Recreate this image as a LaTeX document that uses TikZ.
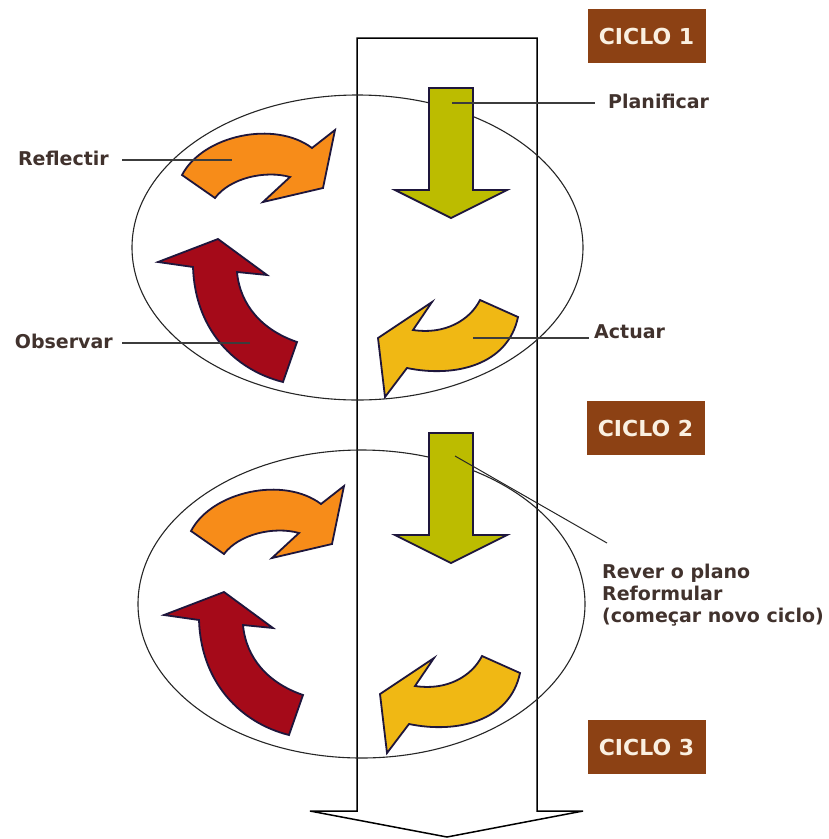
\documentclass[tikz,border=0pt]{standalone}
\usepackage{fontspec}
\setmainfont{DejaVu Sans}
\definecolor{cOrange}{RGB}{247,140,25}
\definecolor{cRed}{RGB}{165,10,25}
\definecolor{cYellow}{RGB}{240,184,20}
\definecolor{cGreen}{RGB}{188,188,0}
\definecolor{cEdge}{RGB}{30,22,60}
\definecolor{cBox}{RGB}{140,65,20}
\definecolor{cBoxText}{RGB}{250,240,225}
\definecolor{cLabel}{RGB}{65,50,45}
\definecolor{cLine}{RGB}{60,60,60}
\tikzset{
  shapeedge/.style={draw=cEdge, line width=1.8pt, line join=miter},
  bigarrow/.style={draw=black, line width=1.5pt, fill=white},
  cycleellipse/.style={draw=black!85, line width=1.1pt},
  ciclobox/.style={fill=cBox, text=cBoxText, minimum width=118pt, minimum height=54pt,
     font=\bfseries\fontsize{22}{26}\selectfont, inner sep=0pt},
  lbl/.style={text=cLabel, font=\bfseries\fontsize{19}{22}\selectfont, inner sep=2pt},
  lblline/.style={draw=cLine, line width=2pt},
  thinline/.style={draw=black!85, line width=1pt},
  greenarrow/.pic={\path[shapeedge, fill=cGreen] (429,88) -- (473,88) -- (473,190) -- (507,190) -- (451,218) -- (395,190) -- (429,190) -- cycle;},
  orangearrow/.pic={\path[shapeedge, fill=cOrange] (182,175) .. controls (203,135) and (275,120) .. (312,148)
     -- (335,130) -- (323,188) -- (263,202) -- (290,177)
     .. controls (265,170) and (230,178) .. (215,198) -- cycle;},
  redarrow/.pic={\path[shapeedge, fill=cRed] (218,239) -- (267,275) -- (237,272)
     .. controls (240,305) and (262,330) .. (297,342) -- (283,382)
     .. controls (235,370) and (195,330) .. (193,267) -- (158,262) -- cycle;},
  yellowarrow/.pic={\path[shapeedge, fill=cYellow] (480,300) -- (518,317)
     .. controls (508,365) and (455,378) .. (407,368) -- (385,397) -- (378,338) -- (432,302) -- (413,330)
     .. controls (445,335) and (470,320) .. (480,300) -- cycle;}
}
\begin{document}
\begin{tikzpicture}[x=1pt,y=-1pt]
\useasboundingbox (0,0) rectangle (829,839);
% big downward arrow
\path[bigarrow] (357,38) -- (537,38) -- (537,811) -- (583,811) -- (447,837) -- (310,811) -- (357,811) -- cycle;
% cycle ellipses
\draw[cycleellipse] (357.5,247.5) ellipse [x radius=225.5, y radius=152.5];
\draw[cycleellipse] (361.5,604) ellipse [x radius=223.5, y radius=154];
% arrows of cycle 1
\pic at (0,0) {greenarrow};
\pic at (0,0) {orangearrow};
\pic at (0,0) {redarrow};
\pic at (0,0) {yellowarrow};
% arrows of cycle 2
\pic at (0,345) {greenarrow};
\pic at (9,356) {orangearrow};
\pic at (6,353) {redarrow};
\pic at (2,356) {yellowarrow};
% cycle boxes
\node[ciclobox] (c1) at (646.5,36) {CICLO 1};
\node[ciclobox] (c2) at (645.5,428) {CICLO 2};
\node[ciclobox] (c3) at (646.5,747) {CICLO 3};
% labels
\node[lbl, anchor=west] (plan) at (606,101) {Planificar};
\node[lbl, anchor=east] (refl) at (111,158) {Reflectir};
\node[lbl, anchor=east] (obs) at (115,341) {Observar};
\node[lbl, anchor=west] (act) at (592,332) {Actuar};
\node[lbl, anchor=west, align=left] (rever) at (600,595) {Rever o plano\\Reformular\\(começar novo ciclo)};
% label connectors
\coordinate (planpt) at (452,103);
\coordinate (reflpt) at (232,160);
\coordinate (obspt) at (250,343);
\coordinate (actpt) at (473,338);
\coordinate (reverpt) at (455,456);
\coordinate (reverend) at (607,543);
\draw[lblline] (planpt) -- ([xshift=-11pt]plan.west |- planpt);
\draw[lblline] ([xshift=11pt]refl.east |- reflpt) -- (reflpt);
\draw[lblline] ([xshift=7pt]obs.east |- obspt) -- (obspt);
\draw[lblline] (actpt) -- ([xshift=-3pt]act.west |- actpt);
\draw[thinline] (reverpt) -- (reverend);
\end{tikzpicture}
\end{document}
